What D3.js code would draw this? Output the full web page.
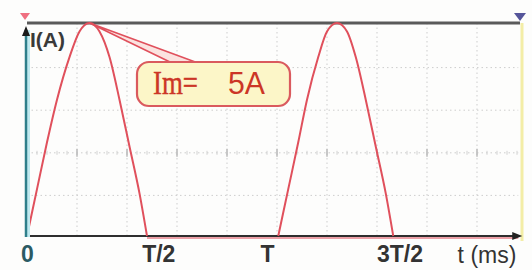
<!DOCTYPE html>
<html>
<head>
<meta charset="utf-8">
<script src="https://cdn.jsdelivr.net/npm/d3@7"></script>
<style>
  html, body { margin: 0; padding: 0; background: #ffffff; }
  svg { display: block; }
</style>
</head>
<body>
<div id="chart"></div>
<script>
// ---- data ----
const hump1T = [0, 0.8, 1.6, 2.4, 3.4, 4.2, 5.0, 5.8, 6.6, 7.4, 8.2, 9.0, 9.6];
const hump1I = [0, 1.1, 2.2, 3.2, 4.2, 4.8, 5.0, 4.8, 4.2, 3.2, 2.1, 1.0, 0];
const hump2T = [20.1, 20.9, 21.7, 22.4, 23.3, 24.0, 24.8, 25.6, 26.3, 27.1, 27.9, 28.7, 29.3];
const hump2I = [0, 1.1, 2.2, 3.2, 4.2, 4.8, 5.0, 4.8, 4.2, 3.2, 2.1, 1.0, 0];
const zeroSegT = [9.6, 39.3];           // flat part (i = 0) after first hump
const tickValues = [0, 10.5, 19.2, 29.8];
const tickLabels = ["0", "T/2", "T", "3T/2"];
const xGrid = [4, 8, 12, 16, 20, 24, 28, 32, 36];
const yGrid = [1, 2, 3, 4];
const peakT = 5.0, peakI = 5.0;
const calloutText1 = "Im=", calloutText2 = "5A";
const xLabel = "t (ms)", yLabel = "I(A)";
const tMax = 39.3, iMax = 5;

// ---- layout ----
const W = 532, H = 270;
const svg = d3.select("#chart").append("svg").attr("width", W).attr("height", H);
svg.append("rect").attr("width", W).attr("height", H).attr("fill", "#fdfdfc");

const x = d3.scaleLinear().domain([0, 40]).range([27, 527]);
const y = d3.scaleLinear().domain([0, iMax]).range([236, 23]);

// ---- grid ----
const grid = svg.append("g");
grid.selectAll("line.v").data(xGrid).join("line")
  .attr("x1", d => x(d)).attr("x2", d => x(d))
  .attr("y1", y(iMax)).attr("y2", y(0))
  .attr("stroke", "#cdcdcd").attr("stroke-width", 1)
  .attr("stroke-dasharray", "1.5,3");
grid.selectAll("line.h").data(yGrid).join("line")
  .attr("x1", x(0)).attr("x2", x(tMax))
  .attr("y1", d => y(d) + 2).attr("y2", d => y(d) + 2)
  .attr("stroke", "#cdcdcd").attr("stroke-width", 1)
  .attr("stroke-dasharray", "1.5,3");
// small ticks along centre line
const centreTicks = d3.range(0, tMax, 0.8);
grid.selectAll("line.ct").data(centreTicks).join("line")
  .attr("x1", d => x(d)).attr("x2", d => x(d))
  .attr("y1", y(2)).attr("y2", y(2) + 4)
  .attr("stroke", "#d2d2d2").attr("stroke-width", 1);
grid.selectAll("line.cx").data(xGrid).join("line")
  .attr("x1", d => x(d)).attr("x2", d => x(d))
  .attr("y1", y(2) - 2).attr("y2", y(2) + 6)
  .attr("stroke", "#bcbcbc").attr("stroke-width", 1.5);

// ---- frame: right yellow edge, top line ----
svg.append("line")
  .attr("x1", 522).attr("x2", 522).attr("y1", y(iMax)).attr("y2", 241)
  .attr("stroke", "#f3eda6").attr("stroke-width", 3);
svg.append("line")
  .attr("x1", x(0)).attr("x2", 520).attr("y1", y(iMax)).attr("y2", y(iMax))
  .attr("stroke", "#5a5a5a").attr("stroke-width", 3);

// ---- waveform ----
const line = d3.line().x(d => x(d[0])).y(d => y(d[1])).curve(d3.curveMonotoneX);
// flat zero part (pink band)
svg.append("line")
  .attr("x1", x(zeroSegT[0])).attr("x2", x(zeroSegT[1]))
  .attr("y1", y(0) + 1).attr("y2", y(0) + 1)
  .attr("stroke", "#e88a92").attr("stroke-width", 4).attr("opacity", 0.8);

// bottom axis line with arrow
svg.append("line")
  .attr("x1", x(0)).attr("x2", x(tMax) - 2).attr("y1", y(0)).attr("y2", y(0))
  .attr("stroke", "#2e2e2e").attr("stroke-width", 1.8);
svg.append("path")
  .attr("d", `M${x(tMax) + 4},${y(0)} L${x(tMax) - 6},${y(0) - 4} L${x(tMax) - 6},${y(0) + 4} Z`)
  .attr("fill", "#222");

[[hump1T, hump1I], [hump2T, hump2I]].forEach(([ts, is]) => {
  svg.append("path")
    .datum(ts.map((t, k) => [t, is[k]]))
    .attr("d", line)
    .attr("fill", "none")
    .attr("stroke", "#e0505c").attr("stroke-width", 2);
});

// ---- left axis ----
svg.append("line")
  .attr("x1", x(0) + 1.5).attr("x2", x(0) + 1.5).attr("y1", 30).attr("y2", y(0) + 1)
  .attr("stroke", "#bfe9ef").attr("stroke-width", 3);
svg.append("line")
  .attr("x1", x(0) - 1).attr("x2", x(0) - 1).attr("y1", 30).attr("y2", y(0) + 1)
  .attr("stroke", "#2f7f8a").attr("stroke-width", 2.5);
svg.append("path")
  .attr("d", `M${x(0) - 1},${26} L${x(0) - 5},${36} L${x(0) + 3},${36} Z`)
  .attr("fill", "#1a1a1a");

// markers
svg.append("path").attr("d", "M20,13 L30,13 L25,20 Z").attr("fill", "#ef6f80");
svg.append("path").attr("d", "M514,13 L526,13 L520,21 Z").attr("fill", "#55559a");

// ---- callout ----
const px = x(peakT), py = y(peakI);
svg.append("path")
  .attr("d", `M${px},${py} L172,63 L198,63 Z`)
  .attr("fill", "#fbe3e0").attr("stroke", "#e0505c").attr("stroke-width", 1.6)
  .attr("stroke-linejoin", "round");
svg.append("rect")
  .attr("x", 137).attr("y", 62).attr("width", 153).attr("height", 44)
  .attr("rx", 12).attr("ry", 12)
  .attr("fill", "#fcf6c8").attr("stroke", "#da5a5e").attr("stroke-width", 2.2);
svg.append("text").text(calloutText1)
  .attr("x", 153).attr("y", 94)
  .attr("textLength", 45).attr("lengthAdjust", "spacingAndGlyphs")
  .attr("font-family", "'Liberation Serif', 'DejaVu Serif', serif").attr("font-size", 33)
  .attr("fill", "#cc3626").attr("stroke", "#cc3626").attr("stroke-width", 0.4);
svg.append("text").text(calloutText2)
  .attr("x", 228).attr("y", 94)
  .attr("textLength", 37).attr("lengthAdjust", "spacingAndGlyphs")
  .attr("font-family", "'Liberation Sans', Arial, sans-serif").attr("font-size", 31)
  .attr("fill", "#cc3626");

// ---- labels ----
const xAxis = d3.axisBottom(x).tickValues(tickValues)
  .tickFormat((d, k) => tickLabels[k]).tickSize(0).tickPadding(0);
const gx = svg.append("g").attr("transform", `translate(0,246)`).call(xAxis);
gx.select(".domain").remove();
gx.selectAll("text")
  .attr("dy", "0.71em")
  .attr("font-family", "'Liberation Sans', Arial, sans-serif")
  .attr("font-size", 23).attr("font-weight", "bold")
  .attr("fill", (d, k) => k === 0 ? "#2b5a63" : "#333");

svg.append("text").text(xLabel)
  .attr("x", x(36.8)).attr("y", 263).attr("text-anchor", "middle")
  .attr("font-family", "'Liberation Sans', Arial, sans-serif")
  .attr("font-size", 23).attr("fill", "#333");

svg.append("text").text(yLabel)
  .attr("x", 30).attr("y", 47)
  .attr("font-family", "'Liberation Sans', Arial, sans-serif")
  .attr("font-size", 21).attr("font-weight", "bold").attr("fill", "#3a3a3a");
</script>
</body>
</html>
